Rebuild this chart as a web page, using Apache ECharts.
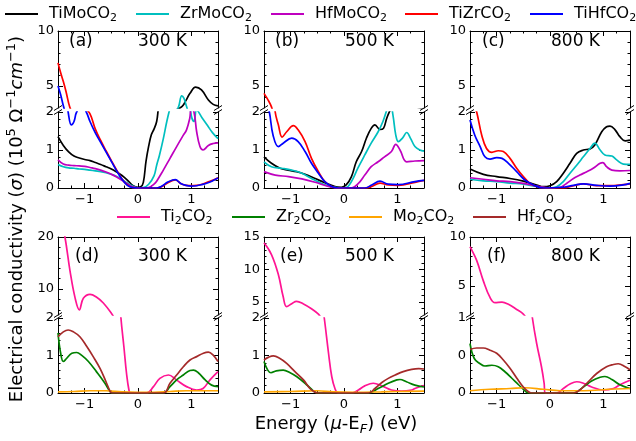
<!DOCTYPE html>
<html>
<head>
<meta charset="utf-8">
<script src="https://cdn.jsdelivr.net/npm/echarts@6/dist/echarts.min.js"></script>
<style>
html, body { margin: 0; padding: 0; background: #fff; }
#chart { width: 636px; height: 441px; }
</style>
</head>
<body>
<div id="chart"></div>
<script>
const FONT = 'DejaVu Sans';

// ---- Conductivity curves: [energy (eV, mu - E_F), sigma (1e5 S/cm)] ----
// Alloyed MXenes, 300 K
const TiMoCO2_300K = [[-1.5,1.35],[-1.4,1.12],[-1.3,0.95],[-1.2,0.84],[-1.1,0.79],[-1.0,0.75],[-0.9,0.72],[-0.8,0.67],[-0.7,0.62],[-0.6,0.56],[-0.5,0.5],[-0.4,0.42],[-0.3,0.33],[-0.2,0.21],[-0.1,0.07],[0,0.02],[0.05,0.03],[0.1,0.15],[0.15,0.7],[0.2,1.1],[0.25,1.4],[0.3,1.55],[0.35,1.75],[0.4,2.2],[0.5,2.5],[0.6,2.7],[0.7,2.8],[0.8,3.05],[0.85,3.27],[0.9,3.7],[0.975,4.33],[1.08,4.9],[1.19,4.64],[1.32,3.73],[1.41,3.33],[1.5,3.2]];
const ZrMoCO2_300K = [[-1.5,0.62],[-1.4,0.56],[-1.3,0.53],[-1.2,0.52],[-1.1,0.5],[-1.0,0.49],[-0.9,0.47],[-0.8,0.45],[-0.7,0.43],[-0.6,0.4],[-0.5,0.36],[-0.4,0.3],[-0.3,0.22],[-0.2,0.13],[-0.1,0.05],[0,0.0],[0.1,0.01],[0.2,0.1],[0.3,0.32],[0.35,0.6],[0.4,0.85],[0.475,1.3],[0.54,1.75],[0.6,2.1],[0.7,2.6],[0.76,3.1],[0.82,4.1],[0.86,3.9],[0.9,3.3],[0.95,2.5],[1.0,1.9],[1.05,1.75],[1.1,2.05],[1.2,1.85],[1.3,1.65],[1.4,1.45],[1.5,1.3]];
const HfMoCO2_300K = [[-1.5,0.74],[-1.4,0.63],[-1.3,0.6],[-1.2,0.59],[-1.1,0.58],[-1.0,0.57],[-0.9,0.54],[-0.8,0.51],[-0.7,0.47],[-0.6,0.42],[-0.5,0.36],[-0.4,0.29],[-0.3,0.2],[-0.2,0.11],[-0.1,0.03],[0,0.0],[0.1,0.0],[0.2,0.01],[0.3,0.1],[0.35,0.18],[0.475,0.47],[0.6,0.78],[0.725,1.09],[0.85,1.39],[0.91,1.53],[0.97,1.83],[1.0,2.1],[1.05,2.0],[1.1,1.48],[1.16,1.1],[1.22,1.0],[1.32,1.12],[1.41,1.17],[1.5,1.19]];
const TiZrCO2_300K = [[-1.5,7.1],[-1.45,6.2],[-1.4,5.4],[-1.35,4.5],[-1.28,3.1],[-1.2,2.3],[-1.1,2.15],[-1.0,2.1],[-0.9,1.95],[-0.8,1.55],[-0.7,1.25],[-0.6,0.98],[-0.5,0.72],[-0.4,0.47],[-0.3,0.24],[-0.2,0.08],[-0.1,0.01],[0,0.0],[0.2,0.0],[0.35,0.0],[0.45,0.04],[0.55,0.13],[0.65,0.2],[0.7,0.21],[0.8,0.12],[0.9,0.07],[1.0,0.06],[1.1,0.07],[1.2,0.1],[1.3,0.15],[1.4,0.2],[1.5,0.27]];
const TiHfCO2_300K = [[-1.5,5.0],[-1.45,4.2],[-1.4,3.2],[-1.35,2.4],[-1.31,2.0],[-1.25,1.66],[-1.2,1.75],[-1.15,2.0],[-1.05,2.15],[-0.97,2.0],[-0.9,1.75],[-0.8,1.45],[-0.7,1.2],[-0.6,0.95],[-0.5,0.7],[-0.4,0.45],[-0.3,0.23],[-0.2,0.07],[-0.1,0.01],[0,0.0],[0.2,0.0],[0.35,0.0],[0.45,0.05],[0.55,0.15],[0.65,0.21],[0.7,0.22],[0.8,0.12],[0.9,0.07],[1.0,0.05],[1.1,0.06],[1.2,0.09],[1.3,0.13],[1.4,0.19],[1.5,0.26]];

// Alloyed MXenes, 500 K
const TiMoCO2_500K = [[-1.5,0.82],[-1.36,0.65],[-1.2,0.52],[-1.05,0.47],[-0.89,0.43],[-0.73,0.36],[-0.54,0.25],[-0.36,0.14],[-0.17,0.04],[-0.05,0.02],[0.04,0.08],[0.14,0.3],[0.23,0.69],[0.33,0.96],[0.42,1.31],[0.51,1.57],[0.58,1.66],[0.675,1.54],[0.74,1.57],[0.8,1.83],[0.85,2.0],[0.95,2.3],[1.1,2.6],[1.25,2.75],[1.4,2.85],[1.5,2.9]];
const ZrMoCO2_500K = [[-1.5,0.69],[-1.36,0.56],[-1.17,0.52],[-0.98,0.47],[-0.79,0.39],[-0.61,0.25],[-0.42,0.12],[-0.23,0.03],[-0.05,0.0],[0.04,0.01],[0.14,0.17],[0.26,0.52],[0.39,0.87],[0.51,1.18],[0.64,1.48],[0.73,1.75],[0.79,2.0],[0.86,2.3],[0.92,1.9],[0.97,1.4],[1.02,1.22],[1.1,1.32],[1.175,1.46],[1.25,1.3],[1.33,1.09],[1.42,1.0],[1.5,0.97]];
const HfMoCO2_500K = [[-1.5,0.43],[-1.29,0.34],[-1.04,0.3],[-0.79,0.24],[-0.54,0.15],[-0.29,0.04],[-0.11,0.0],[0.14,0.0],[0.27,0.12],[0.39,0.34],[0.51,0.56],[0.64,0.69],[0.76,0.82],[0.89,0.96],[0.97,1.15],[1.05,1.0],[1.175,0.69],[1.33,0.71],[1.5,0.72]];
const TiZrCO2_500K = [[-1.5,4.33],[-1.42,3.7],[-1.36,3.1],[-1.29,2.0],[-1.23,1.66],[-1.16,1.34],[-1.075,1.48],[-0.95,1.64],[-0.86,1.53],[-0.73,1.22],[-0.61,0.78],[-0.48,0.43],[-0.36,0.17],[-0.23,0.04],[-0.11,0.0],[0.39,0.0],[0.52,0.04],[0.675,0.13],[0.83,0.08],[1.02,0.07],[1.33,0.15],[1.5,0.2]];
const TiHfCO2_500K = [[-1.5,2.5],[-1.45,2.2],[-1.4,2.0],[-1.33,1.39],[-1.23,1.09],[-1.14,1.18],[-0.98,1.31],[-0.86,1.22],[-0.73,0.96],[-0.61,0.65],[-0.48,0.39],[-0.36,0.17],[-0.23,0.04],[-0.11,0.0],[0.39,0.0],[0.52,0.08],[0.675,0.18],[0.83,0.1],[1.02,0.09],[1.33,0.17],[1.5,0.2]];

// Alloyed MXenes, 800 K
const TiMoCO2_800K = [[-1.5,0.5],[-1.25,0.36],[-1.0,0.3],[-0.75,0.25],[-0.5,0.18],[-0.25,0.08],[-0.125,0.035],[0,0.06],[0.125,0.17],[0.25,0.39],[0.375,0.65],[0.5,0.91],[0.625,1.0],[0.75,1.03],[0.84,1.13],[0.97,1.48],[1.06,1.61],[1.125,1.63],[1.22,1.53],[1.31,1.35],[1.41,1.24],[1.5,1.26]];
const ZrMoCO2_800K = [[-1.5,0.23],[-1.25,0.19],[-1.0,0.17],[-0.75,0.13],[-0.5,0.1],[-0.25,0.04],[0,0.0],[0.125,0.03],[0.25,0.17],[0.375,0.39],[0.5,0.6],[0.625,0.82],[0.75,1.04],[0.84,1.18],[0.94,1.0],[1.03,0.87],[1.16,0.84],[1.25,0.74],[1.375,0.63],[1.5,0.62]];
const HfMoCO2_800K = [[-1.5,0.27],[-1.25,0.23],[-1.0,0.19],[-0.75,0.17],[-0.5,0.12],[-0.25,0.05],[0,0.0],[0.19,0.02],[0.31,0.12],[0.44,0.25],[0.56,0.34],[0.69,0.43],[0.81,0.52],[0.94,0.65],[0.99,0.67],[1.06,0.56],[1.16,0.47],[1.31,0.45],[1.5,0.46]];
const TiZrCO2_800K = [[-1.5,2.4],[-1.41,2.1],[-1.375,2.0],[-1.28,1.39],[-1.19,1.04],[-1.09,0.94],[-0.97,0.98],[-0.875,0.96],[-0.75,0.78],[-0.625,0.52],[-0.5,0.3],[-0.375,0.12],[-0.25,0.04],[-0.125,0.0],[0.25,0.0],[0.44,0.06],[0.625,0.11],[0.875,0.06],[1.125,0.06],[1.375,0.09],[1.5,0.11]];
const TiHfCO2_800K = [[-1.5,1.79],[-1.41,1.39],[-1.31,1.09],[-1.22,0.82],[-1.125,0.76],[-1.0,0.8],[-0.9,0.78],[-0.78,0.65],[-0.625,0.43],[-0.47,0.21],[-0.31,0.08],[-0.125,0.0],[0.25,0.02],[0.44,0.07],[0.625,0.11],[0.875,0.07],[1.125,0.05],[1.375,0.08],[1.5,0.12]];

// Pristine MXenes, 300 K
const Ti2CO2_300K = [[-1.5,27],[-1.45,23.5],[-1.37,20],[-1.275,13.5],[-1.18,8.3],[-1.1,6.0],[-1.025,8.2],[-0.9,8.95],[-0.775,8.4],[-0.65,7.3],[-0.49,5.2],[-0.42,4.0],[-0.37,3.0],[-0.32,2.0],[-0.265,1.24],[-0.215,0.52],[-0.17,0.08],[-0.14,0.0],[0.16,0.0],[0.29,0.17],[0.41,0.39],[0.57,0.48],[0.72,0.35],[0.91,0.17],[1.1,0.08],[1.22,0.12],[1.35,0.35],[1.5,0.57]];
const Zr2CO2_300K = [[-1.5,1.6],[-1.45,1.06],[-1.4,0.84],[-1.34,0.92],[-1.24,1.06],[-1.15,1.08],[-1.06,1.01],[-0.93,0.84],[-0.78,0.57],[-0.62,0.26],[-0.525,0.04],[-0.49,0.0],[0.475,0.0],[0.6,0.17],[0.725,0.35],[0.85,0.48],[0.975,0.6],[1.04,0.61],[1.13,0.54],[1.26,0.35],[1.38,0.21],[1.5,0.17]];
const Mo2CO2_300K = [[-1.5,0.03],[-1.2,0.04],[-0.9,0.06],[-0.6,0.06],[-0.3,0.03],[0,0.02],[0.3,0.02],[0.6,0.04],[0.9,0.06],[1.2,0.06],[1.5,0.06]];
const Hf2CO2_300K = [[-1.5,1.5],[-1.4,1.63],[-1.31,1.68],[-1.21,1.63],[-1.09,1.5],[-0.96,1.24],[-0.84,0.97],[-0.71,0.65],[-0.6,0.3],[-0.525,0.05],[-0.49,0.0],[0.475,0.0],[0.6,0.26],[0.725,0.48],[0.85,0.7],[0.975,0.88],[1.1,0.97],[1.225,1.06],[1.32,1.09],[1.41,1.01],[1.5,0.84]];

// Pristine MXenes, 500 K
const Ti2CO2_500K = [[-1.5,14.1],[-1.36,12.3],[-1.23,9.2],[-1.14,5.8],[-1.075,4.3],[-0.98,4.74],[-0.89,5.1],[-0.76,4.7],[-0.61,3.96],[-0.49,3.2],[-0.43,2.6],[-0.37,2.0],[-0.29,1.06],[-0.23,0.44],[-0.17,0.12],[-0.11,0.0],[0.14,0.0],[0.27,0.08],[0.39,0.19],[0.55,0.26],[0.71,0.19],[0.89,0.08],[1.08,0.05],[1.27,0.08],[1.33,0.12],[1.5,0.2]];
const Zr2CO2_500K = [[-1.5,0.84],[-1.43,0.61],[-1.37,0.54],[-1.27,0.59],[-1.14,0.61],[-1.01,0.54],[-0.89,0.44],[-0.73,0.26],[-0.61,0.1],[-0.54,0.02],[-0.5,0.0],[0.46,0.0],[0.64,0.12],[0.83,0.26],[0.99,0.35],[1.05,0.36],[1.17,0.3],[1.33,0.21],[1.5,0.16]];
const Mo2CO2_500K = [[-1.5,0.03],[-1.0,0.04],[-0.5,0.06],[-0.2,0.03],[0.2,0.02],[0.7,0.03],[1.0,0.04],[1.5,0.05]];
const Hf2CO2_500K = [[-1.5,0.88],[-1.42,0.95],[-1.325,0.99],[-1.2,0.92],[-1.075,0.79],[-0.92,0.57],[-0.76,0.35],[-0.64,0.12],[-0.54,0.02],[-0.5,0.0],[0.46,0.0],[0.58,0.12],[0.71,0.28],[0.83,0.39],[0.96,0.48],[1.11,0.57],[1.27,0.63],[1.4,0.65],[1.5,0.64]];

// Pristine MXenes, 800 K
const Ti2CO2_800K = [[-1.5,9.0],[-1.48,8.8],[-1.375,7.6],[-1.25,5.5],[-1.125,3.8],[-1.03,3.26],[-0.9,3.33],[-0.78,3.1],[-0.625,2.57],[-0.5,2.1],[-0.42,1.5],[-0.33,1.0],[-0.25,0.66],[-0.16,0.35],[-0.11,0.13],[-0.09,0.0],[0.125,0.0],[0.25,0.06],[0.375,0.12],[0.5,0.15],[0.625,0.13],[0.78,0.08],[1.0,0.04],[1.19,0.06],[1.31,0.11],[1.5,0.17]];
const Zr2CO2_800K = [[-1.5,0.66],[-1.42,0.46],[-1.31,0.39],[-1.22,0.36],[-1.09,0.37],[-0.97,0.35],[-0.84,0.28],[-0.72,0.2],[-0.59,0.11],[-0.47,0.03],[-0.4,0.0],[0.44,0.0],[0.625,0.08],[0.78,0.16],[0.94,0.21],[1.03,0.22],[1.16,0.18],[1.31,0.11],[1.5,0.06]];
const Mo2CO2_800K = [[-1.5,0.03],[-1.125,0.05],[-0.75,0.06],[-0.47,0.07],[-0.125,0.05],[0.19,0.03],[0.625,0.03],[1.125,0.05],[1.5,0.06]];
const Hf2CO2_800K = [[-1.5,0.58],[-1.375,0.6],[-1.25,0.6],[-1.125,0.57],[-1.0,0.53],[-0.875,0.44],[-0.75,0.33],[-0.625,0.2],[-0.5,0.08],[-0.41,0.02],[-0.35,0.0],[0.44,0.0],[0.56,0.04],[0.69,0.13],[0.875,0.26],[1.06,0.35],[1.19,0.38],[1.28,0.39],[1.41,0.35],[1.5,0.31]];

// ---- Series names, colours, panel text ----
const alloyNames = ['TiMoCO2', 'ZrMoCO2', 'HfMoCO2', 'TiZrCO2', 'TiHfCO2'];
const alloyColors = ['#000000', '#00bfbf', '#bf00bf', '#ff0000', '#0000ff'];
const pureNames = ['Ti2CO2', 'Zr2CO2', 'Mo2CO2', 'Hf2CO2'];
const pureColors = ['#ff1493', '#008000', '#ffa500', '#a52a2a'];
const temperatures = ['300 K', '500 K', '800 K'];
const panelTags = [['(a)', '(b)', '(c)'], ['(d)', '(e)', '(f)']];

const alloyCurves = [
  [TiMoCO2_300K, ZrMoCO2_300K, HfMoCO2_300K, TiZrCO2_300K, TiHfCO2_300K],
  [TiMoCO2_500K, ZrMoCO2_500K, HfMoCO2_500K, TiZrCO2_500K, TiHfCO2_500K],
  [TiMoCO2_800K, ZrMoCO2_800K, HfMoCO2_800K, TiZrCO2_800K, TiHfCO2_800K]
];
const pureCurves = [
  [Ti2CO2_300K, Zr2CO2_300K, Mo2CO2_300K, Hf2CO2_300K],
  [Ti2CO2_500K, Zr2CO2_500K, Mo2CO2_500K, Hf2CO2_500K],
  [Ti2CO2_800K, Zr2CO2_800K, Mo2CO2_800K, Hf2CO2_800K]
];

// ---- Tick values ----
const energyMajor = [-1, 0, 1];
const energyMinor = [-1.25, -0.75, -0.5, -0.25, 0.25, 0.5, 0.75, 1.25];
const yLower2 = { min: 0, max: 2, major: [0, 1, 2], minor: [0.2, 0.4, 0.6, 0.8, 1.2, 1.4, 1.6, 1.8] };
const yLower1 = { min: 0, max: 1, major: [0, 0.5, 1], minor: [0.1, 0.2, 0.3, 0.4, 0.6, 0.7, 0.8, 0.9] };
const yUpperAlloy = { min: 3, max: 10, major: [5, 10], minor: [4, 6, 7, 8, 9] };
const yUpperPure = [
  { min: 5, max: 20, major: [10, 20], minor: [6, 8, 12, 14, 16, 18] },
  { min: 3, max: 15, major: [5, 10, 15], minor: [4, 6, 7, 8, 9, 11, 12, 13, 14] },
  { min: 2, max: 10, major: [5, 10], minor: [3, 4, 6, 7, 8, 9] }
];
const yLowerPure = [yLower2, yLower2, yLower1];

// ---- Layout ----
const colLeft = [58, 264, 470];
const panelW = 160;
const rows = [
  { upper: { top: 31, h: 77 }, lower: { top: 112, h: 76 }, tagY: 42, tagX: [69, 275, 482] },
  { upper: { top: 237, h: 78 }, lower: { top: 318, h: 75 }, tagY: 257, tagX: [75, 280, 487] }
];
const tempX = [138, 345, 551];
const TICK_MAJOR = 5, TICK_MINOR = 2.5;

const grids = [], xAxes = [], yAxes = [], series = [], graphics = [];

const fmtEnergy = v => (v < 0 ? '\u2212' + Math.abs(v) : String(v));
const fmtSigma = v => String(Math.floor(v + 1e-9));

function xAxis(gi, pos, ticks, len, showLine, showLabel) {
  return {
    type: 'value', gridIndex: gi, position: pos, min: -1.5, max: 1.5,
    axisLine: { show: showLine, onZero: false, lineStyle: { color: '#000', width: 1 } },
    axisTick: { show: true, inside: true, length: len, customValues: ticks, lineStyle: { color: '#000', width: 1 } },
    axisLabel: { show: showLabel, customValues: ticks, formatter: fmtEnergy, fontFamily: FONT, fontSize: 13, color: '#000', margin: 5 },
    splitLine: { show: false }, minorTick: { show: false }
  };
}
function yAxis(gi, side, r, ticks, len, showLine, showLabel) {
  return {
    type: 'value', gridIndex: gi, position: side, min: r.min, max: r.max,
    axisLine: { show: showLine, onZero: false, lineStyle: { color: '#000', width: 1 } },
    axisTick: { show: true, inside: true, length: len, customValues: ticks, lineStyle: { color: '#000', width: 1 } },
    axisLabel: { show: showLabel, customValues: ticks, formatter: fmtSigma, fontFamily: FONT, fontSize: 13, color: '#000', margin: 4 },
    splitLine: { show: false }, minorTick: { show: false }
  };
}

function addPart(left, box, isUpper, range, names, colors, curves) {
  const gi = grids.length;
  grids.push({ left: left, top: box.top, width: panelW, height: box.h });
  const pos = isUpper ? 'top' : 'bottom';
  const xi = xAxes.length;
  xAxes.push(xAxis(gi, pos, energyMajor, TICK_MAJOR, true, !isUpper));
  xAxes.push(xAxis(gi, pos, energyMinor, TICK_MINOR, false, false));
  const yi = yAxes.length;
  yAxes.push(yAxis(gi, 'left', range, range.major, TICK_MAJOR, true, true));
  yAxes.push(yAxis(gi, 'left', range, range.minor, TICK_MINOR, false, false));
  yAxes.push(yAxis(gi, 'right', range, range.major, TICK_MAJOR, true, false));
  yAxes.push(yAxis(gi, 'right', range, range.minor, TICK_MINOR, false, false));
  names.forEach((name, k) => {
    series.push({
      type: 'line', name: name, xAxisIndex: xi, yAxisIndex: yi,
      data: curves[k], showSymbol: false, symbol: 'none',
      smooth: 0.4, clip: true,
      lineStyle: { color: colors[k], width: 1.7 }, itemStyle: { color: colors[k] },
      emphasis: { disabled: true }, animation: false, z: 2 + k
    });
  });
}

function breakMarks(left, row) {
  const yUp = row.upper.top + row.upper.h, yLo = row.lower.top;
  [left, left + panelW].forEach(x => {
    [yUp, yLo].forEach(y => {
      graphics.push({ type: 'line', silent: true, z: 50,
        shape: { x1: x - 4, y1: y + 2.5, x2: x + 4, y2: y - 2.5 },
        style: { stroke: '#000', lineWidth: 1 } });
    });
  });
}

for (let c = 0; c < 3; c++) {
  // top row: alloyed MXenes
  addPart(colLeft[c], rows[0].upper, true, yUpperAlloy, alloyNames, alloyColors, alloyCurves[c]);
  addPart(colLeft[c], rows[0].lower, false, yLower2, alloyNames, alloyColors, alloyCurves[c]);
  // bottom row: pristine MXenes
  addPart(colLeft[c], rows[1].upper, true, yUpperPure[c], pureNames, pureColors, pureCurves[c]);
  addPart(colLeft[c], rows[1].lower, false, yLowerPure[c], pureNames, pureColors, pureCurves[c]);
  for (let r = 0; r < 2; r++) {
    breakMarks(colLeft[c], rows[r]);
    graphics.push({ type: 'text', silent: true, z: 60, x: rows[r].tagX[c], y: rows[r].tagY,
      style: { text: panelTags[r][c], fontFamily: FONT, fontSize: 17, fill: '#000', verticalAlign: 'middle' } });
    graphics.push({ type: 'text', silent: true, z: 60, x: tempX[c], y: rows[r].tagY,
      style: { text: temperatures[c], fontFamily: FONT, fontSize: 17, fill: '#000', verticalAlign: 'middle' } });
  }
}

// ---- Axis titles ----
const titleRich = {
  sup: { fontFamily: FONT, fontSize: 13, fill: '#000', lineHeight: 9, verticalAlign: 'top' },
  sub: { fontFamily: FONT, fontSize: 13, fill: '#000', lineHeight: 9, verticalAlign: 'bottom', fontStyle: 'italic' },
  it: { fontFamily: FONT, fontSize: 18, fill: '#000', fontStyle: 'italic', lineHeight: 24 }
};
graphics.push({ type: 'text', silent: true, z: 60, x: 17.5, y: 219, rotation: Math.PI / 2,
  style: { text: 'Electrical conductivity ({it|\u03c3}) (10{sup|5} \u03a9{sup|\u22121}{it|cm}{sup|\u22121})',
    fontFamily: FONT, fontSize: 18, lineHeight: 24, fill: '#000', align: 'center', verticalAlign: 'middle', rich: titleRich } });
graphics.push({ type: 'text', silent: true, z: 60, x: 336, y: 424,
  style: { text: 'Energy ({it|\u03bc}-E{sub|F}) (eV)',
    fontFamily: FONT, fontSize: 18, lineHeight: 24, fill: '#000', align: 'center', verticalAlign: 'middle', rich: titleRich } });

// ---- Legends (one component per entry) ----
const legendRich = { sub: { fontFamily: FONT, fontSize: 11, color: '#000', lineHeight: 8, verticalAlign: 'bottom' } };
function legendEntry(name, left, centerY) {
  return {
    data: [{ name: name, icon: 'rect' }], left: left, top: centerY - 10, padding: 0,
    itemWidth: 33, itemHeight: 2, selectedMode: false,
    formatter: n => n.replace(/2/g, '{sub|2}'),
    textStyle: { fontFamily: FONT, fontSize: 16, color: '#000', lineHeight: 20, padding: [0, 0, 0, 6], rich: legendRich }
  };
}
const legends = [];
[5, 136, 271, 405, 530].forEach((x, i) => legends.push(legendEntry(alloyNames[i], x, 14)));
[117, 232, 349, 473].forEach((x, i) => legends.push(legendEntry(pureNames[i], x, 217)));

const chart = echarts.init(document.getElementById('chart'), null, { renderer: 'canvas' });
chart.setOption({
  animation: false,
  backgroundColor: '#ffffff',
  textStyle: { fontFamily: FONT },
  grid: grids, xAxis: xAxes, yAxis: yAxes, series: series,
  legend: legends,
  graphic: { elements: graphics }
});
</script>
</body>
</html>
